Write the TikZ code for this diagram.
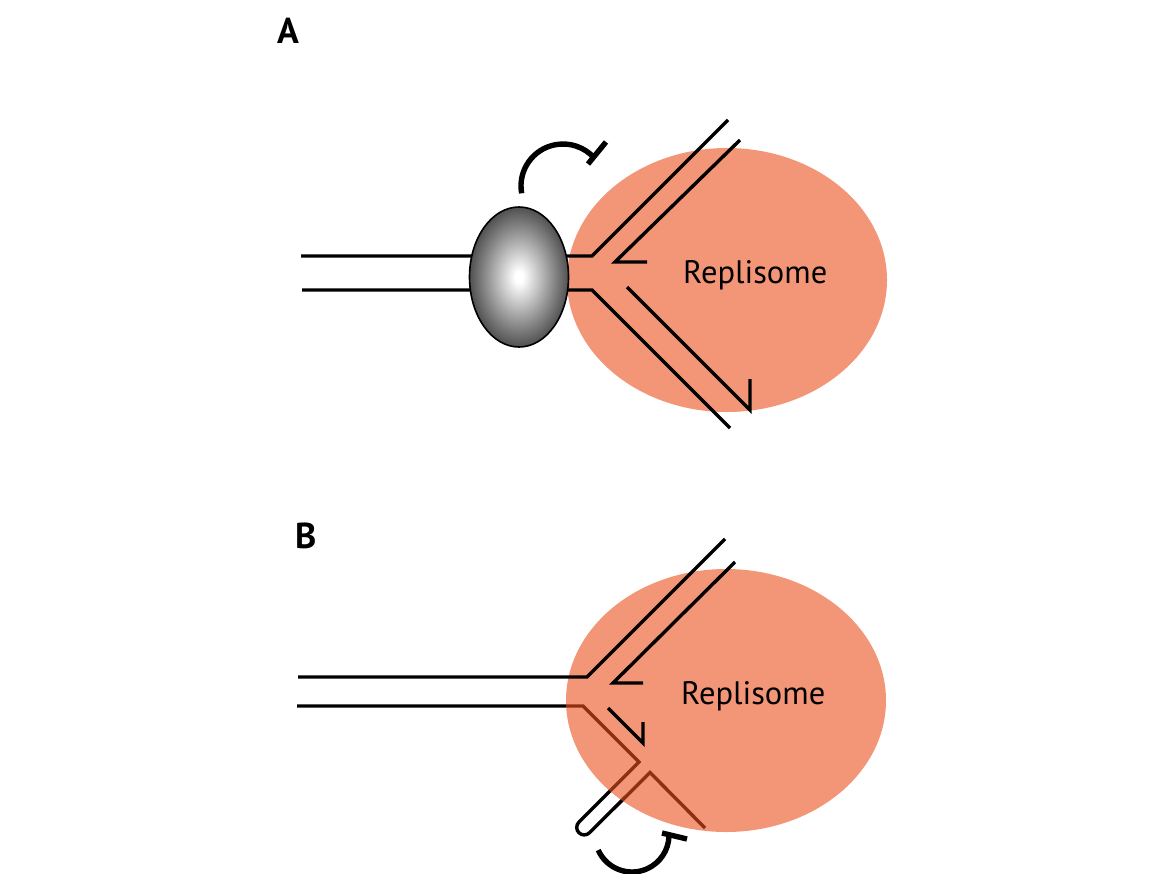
\documentclass[tikz,border=0pt]{standalone}
\usepackage{fontspec}
\newfontfamily\labfont{PT Sans}
\definecolor{salmon}{RGB}{243,150,120}
\definecolor{salmonbase}{RGB}{235,80,30}
\pgfdeclareradialshading{spheresh}{\pgfpoint{0bp}{0bp}}{color(0bp)=(white); color(2bp)=(white); color(17bp)=(black!45); color(33bp)=(black!92); color(50bp)=(black!92)}
\begin{document}
\begin{tikzpicture}[x=1pt,y=1pt,
  strand/.style={line width=3.4pt, draw=black},
  inhib/.style={line width=5.4pt, draw=black},
  lab/.style={font=\labfont\bfseries\fontsize{36}{36}\selectfont, inner sep=0pt, anchor=base west},
  reptext/.style={font=\labfont\fontsize{32.5}{32.5}\selectfont, inner sep=0pt, anchor=base west}]
\useasboundingbox (0,0) rectangle (1151,-873);
% ---------------- Panel A ----------------
\node[lab] (labA) at (277,-43) {A};
\fill[salmon] (727,-280) ellipse [x radius=160, y radius=132];
\coordinate (repA) at (727,-280);
\node[reptext] (txtA) at (683,-283) {Replisome};
\draw[strand] (301,-256) -- (592,-256) -- (728,-120);
\draw[strand] (740,-140) -- (615,-262) -- (647,-262);
\draw[strand] (302,-290) -- (592,-290) -- (730,-428);
\draw[strand] (627,-287) -- (750,-410) -- (750,-379);
\shadedraw[shading=spheresh, draw=black, line width=1.6pt] (519,-277) ellipse [x radius=49.5, y radius=70];
\coordinate (sphere) at (519,-277);
\draw[inhib] (563,-186) ++(190:42) arc[start angle=190, end angle=43, radius=42];
\draw[inhib] (588,-164) -- (606,-142);
% ---------------- Panel B ----------------
\node[lab] (labB) at (295,-548) {B};
\draw[strand] (297,-706) -- (583,-706) -- (639,-762) -- ++(225:85)
   arc[start angle=135, end angle=315, radius=7.5] -- (650,-772.5) -- (705,-828);
\fill[salmonbase, fill opacity=0.6] (726,-700.5) ellipse [x radius=160, y radius=131.5];
\coordinate (repB) at (726,-700.5);
\draw[strand] (298,-677) -- (587,-677) -- (725,-539);
\draw[strand] (735,-562) -- (613,-683) -- (643,-683);
\draw[strand] (608,-708) -- (643,-743) -- (643,-722);
\node[reptext] (txtB) at (681,-704) {Replisome};
\draw[inhib] (632,-835) ++(204:37) arc[start angle=204, end angle=358, radius=37];
\draw[inhib] (662,-833) -- (687,-839);
\end{tikzpicture}
\end{document}
